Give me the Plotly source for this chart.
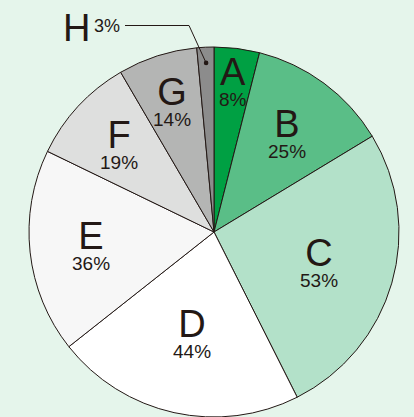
import math
import plotly.graph_objects as go

# ---- data ----
labels = ["A", "B", "C", "D", "E", "F", "G", "H"]
values = [8, 25, 53, 44, 36, 19, 14, 3]
pct_text = ["8%", "25%", "53%", "44%", "36%", "19%", "14%", "3%"]
colors = ["#00a043", "#5abe87", "#b3e1c9", "#ffffff", "#f7f7f7",
          "#dedfde", "#b4b5b4", "#8c8c8c"]

# ---- layout constants (pixel space) ----
W, H = 414, 417
CX, CY, R = 214, 232, 185
label_r = [0.82, 0.66, 0.59, 0.56, 0.67, 0.70, 0.74, 0.915]
INK = "#231815"
FONT = "Liberation Sans, Arial, sans-serif"
BG = "#e5f5eb"

fig = go.Figure()

fig.add_trace(go.Pie(
    labels=labels, values=values, sort=False, direction="clockwise",
    rotation=0, textinfo="none", hoverinfo="label+value",
    marker=dict(colors=colors, line=dict(color=INK, width=1)),
    domain=dict(x=[(CX - R) / W, (CX + R) / W],
                y=[(H - CY - R) / H, (H - CY + R) / H]),
    showlegend=False,
))

# hidden pixel-space axes for annotations/shapes
fig.update_xaxes(range=[0, W], visible=False, domain=[0, 1], fixedrange=True)
fig.update_yaxes(range=[H, 0], visible=False, domain=[0, 1], fixedrange=True)
fig.add_trace(go.Scatter(x=[0], y=[0], mode="markers", marker=dict(opacity=0),
                         showlegend=False, hoverinfo="skip"))

total = sum(values)
cum = 0
annotations = []
shapes = []
for i, (lab, v, p) in enumerate(zip(labels, values, pct_text)):
    mid = (cum + v / 2) / total * 2 * math.pi
    cum += v
    rr = label_r[i] * R
    px = CX + rr * math.sin(mid)
    py = CY - rr * math.cos(mid)
    if lab != "H":
        txt = (f"<span style='font-size:38px'>{lab}</span><br>"
               f"<span style='font-size:19px'>{p}</span>")
        annotations.append(dict(x=px, y=py - 1, xref="x", yref="y", text=txt,
                                showarrow=False, align="center",
                                font=dict(size=16, color=INK, family=FONT)))
    else:
        # leader line with elbow
        shapes.append(dict(type="path", xref="x", yref="y", layer="above",
                           path=f"M 125 25.5 L 189 25.5 L {px:.1f} {py:.1f}",
                           line=dict(color=INK, width=1)))
        shapes.append(dict(type="circle", xref="x", yref="y", layer="above",
                           x0=px - 2.3, x1=px + 2.3, y0=py - 2.3, y1=py + 2.3,
                           fillcolor=INK, line=dict(width=0)))
        annotations.append(dict(x=76, y=28, xref="x", yref="y", text=lab,
                                showarrow=False, font=dict(size=38, color=INK, family=FONT)))
        annotations.append(dict(x=107, y=26, xref="x", yref="y", text=p,
                                showarrow=False, font=dict(size=18, color=INK, family=FONT)))

fig.update_layout(
    width=W, height=H, margin=dict(l=0, r=0, t=0, b=0),
    paper_bgcolor=BG, plot_bgcolor="rgba(0,0,0,0)",
    annotations=annotations, shapes=shapes,
)

fig.write_html(
    "out.html",
    config={"displayModeBar": False},
    post_script=(
        "document.body.style.margin='0';"
        "document.body.style.padding='0';"
        f"document.body.style.background='{BG}';"
        "document.body.style.overflow='hidden';"
    ),
)
